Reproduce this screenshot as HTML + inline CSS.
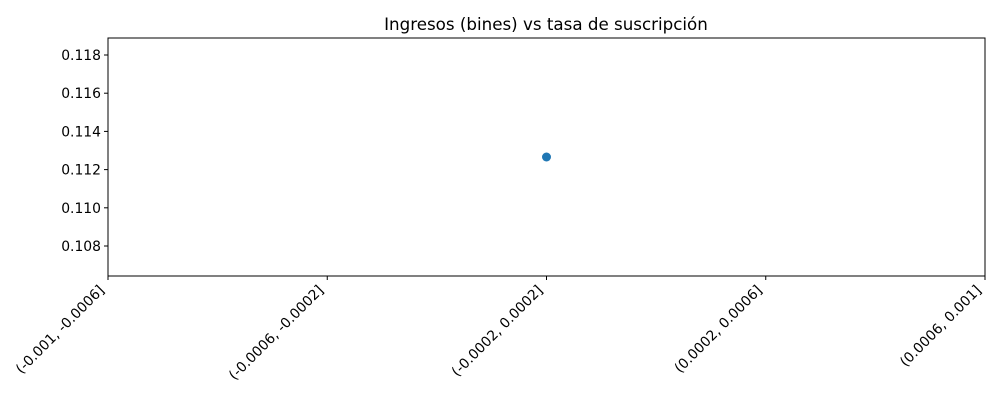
<!DOCTYPE html>
<html><head><meta charset="utf-8"><style>
body{margin:0;background:#fff;}
svg{display:block;font-family:"DejaVu Sans","Liberation Sans",sans-serif;}
</style></head><body>
<svg id="chart" width="1000" height="400">
<rect width="1000" height="400" fill="#fff"/>
<text x="546" y="30" text-anchor="middle" font-size="16.7">Ingresos (bines) vs tasa de suscripción</text>
<g id="yaxis"></g>
<g id="xaxis"></g>
<g id="marks"></g>
<rect x="108" y="38" width="877" height="238" fill="none" stroke="#000" stroke-width="1"/>
</svg>
<script>
const categories=["(-0.001, -0.0006]","(-0.0006, -0.0002]","(-0.0002, 0.0002]","(0.0002, 0.0006]","(0.0006, 0.001]"];
const pointCats=[2];
const pointValues=[0.11266];
const yTicks=[0.108,0.110,0.112,0.114,0.116,0.118];
const yMin=0.10643, yMax=0.11889;
const L=108,R=985,T=38,B=276;
const NS="http://www.w3.org/2000/svg";
const xs=i=>L+i*(R-L)/(categories.length-1);
const ys=v=>B-(v-yMin)/(yMax-yMin)*(B-T);
function mk(tag,attrs,parent){const e=document.createElementNS(NS,tag);for(const k in attrs)e.setAttribute(k,attrs[k]);parent.appendChild(e);return e;}
const ya=document.getElementById('yaxis'),xa=document.getElementById('xaxis'),mg=document.getElementById('marks');
yTicks.forEach(t=>{const y=ys(t);
 const l=mk('line',{x1:L-4,x2:L,y1:y,y2:y,stroke:'#000'},ya);
 
 
 const tx=mk('text',{x:L-7,y:y+5,'text-anchor':'end','font-size':'13.9'},ya);tx.textContent=t.toFixed(3);
 
 
});
categories.forEach((c,i)=>{const x=xs(i);
 const l=mk('line',{x1:x,x2:x,y1:B,y2:B+4,stroke:'#000'},xa);
 
 
 const ax=x-3, ay=B+15;
 const tx=mk('text',{x:ax,y:ay,'text-anchor':'end','font-size':'13.9',transform:`rotate(-45 ${ax} ${ay})`},xa);tx.textContent=c;
 
 
});
pointCats.forEach((c,i)=>{
 const p=mk('circle',{cx:xs(c),cy:ys(pointValues[i]),r:4.5,fill:'#1f77b4'},mg);
 
 
});
</script>
</body></html>
